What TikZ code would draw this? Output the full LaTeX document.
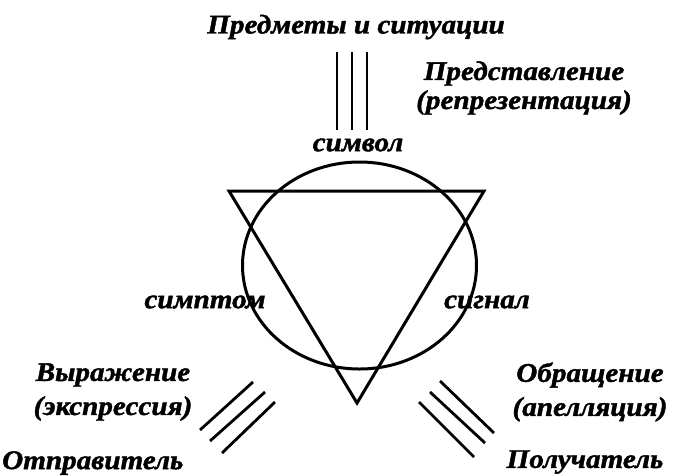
\documentclass[tikz,border=0pt]{standalone}
\usepackage{fontspec}
\setmainfont{Liberation Serif}[BoldItalicFeatures={FakeBold=1.5,FakeStretch=1.08}]
\begin{document}
\begin{tikzpicture}[x=1pt,y=-1pt,
  lbl/.style={font=\fontsize{27}{32}\selectfont\bfseries\itshape, inner sep=0pt, align=center},
  shp/.style={line width=3pt},
  tri/.style={line width=2.8pt}]
\useasboundingbox (0,0) rectangle (677,475);
% shapes
\draw[shp] (359.5,265.5) ellipse [x radius=117, y radius=103.5];
\coordinate (A) at (229,191);
\coordinate (B) at (484,191);
\coordinate (C) at (357,403);
\draw[shp, line join=miter] (A) -- (B) -- (C) -- cycle;
% labels
\node[lbl] (obj) at (356,27) {Предметы и ситуации};
\node[lbl] (rep) at (524,88) {Представление\\[-3pt](репрезентация)};
\node[lbl] (sym) at (358,145) {символ};
\node[lbl] (smp) at (205,302) {симптом};
\node[lbl] (sig) at (487,302) {сигнал};
\node[lbl] (expr) at (113,392) {Выражение\\[2pt](экспрессия)};
\node[lbl, anchor=west] (send) at (2,463) {Отправитель};
\node[lbl] (app) at (590,392) {Обращение\\[2pt](апелляция)};
\node[lbl] (recv) at (585,462) {Получатель};
% triple lines
\foreach \x in {337,352,367} \draw[tri] (\x,52) -- (\x,130);
\draw[tri] (200,430) -- (253,382);
\draw[tri] (210,441) -- (265,392);
\draw[tri] (222,453) -- (275,402);
\draw[tri] (440,381) -- (494,433);
\draw[tri] (430,392) -- (485,443);
\draw[tri] (419,402) -- (474,457);
\end{tikzpicture}
\end{document}
